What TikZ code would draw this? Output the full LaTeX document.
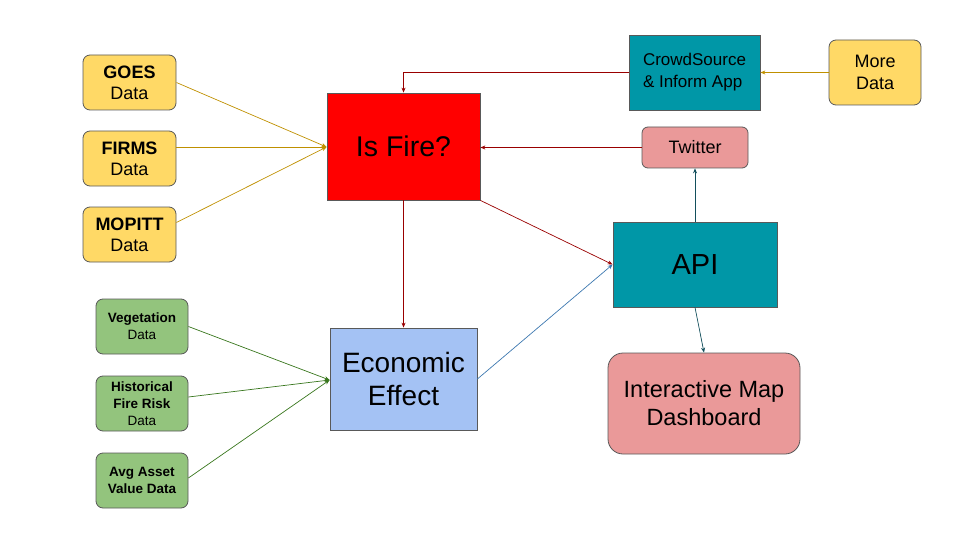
\documentclass[tikz,border=0pt]{standalone}
\usepackage{fontspec}
\setmainfont{Liberation Sans}
\usetikzlibrary{arrows.meta}
\definecolor{ylw}{HTML}{FFD966}
\definecolor{ylwline}{HTML}{BF9000}
\definecolor{grn}{HTML}{93C47D}
\definecolor{grnline}{HTML}{38761D}
\definecolor{teal}{HTML}{0097A7}
\definecolor{tealline}{HTML}{134F5C}
\definecolor{pink}{HTML}{EA9999}
\definecolor{lblue}{HTML}{A4C2F4}
\definecolor{redline}{HTML}{990000}
\definecolor{blueline}{HTML}{3D78B0}
\definecolor{border}{HTML}{595959}
\tikzset{
  box/.style={draw=border, line width=0.8pt, inner sep=0pt, align=center, text=black},
  ybox/.style={box, fill=ylw, rounded corners=7pt, minimum width=93pt, minimum height=55pt, font=\fontsize{18}{21}\selectfont},
  gbox/.style={box, fill=grn, rounded corners=7pt, minimum width=92pt, minimum height=55pt, font=\fontsize{13.5}{17}\selectfont},
  conn/.style={line width=0.7pt, -{Stealth[length=5pt,width=4pt]}},
}
\begin{document}
\begin{tikzpicture}[x=1pt,y=-1pt]
\useasboundingbox (0,0) rectangle (960,540);
\node[ybox] (goes) at (129.5,82.5) {\textbf{GOES}\\Data};
\node[ybox] (firms) at (129.5,158.5) {\textbf{FIRMS}\\Data};
\node[ybox] (mopitt) at (129.5,234.5) {\textbf{MOPITT}\\Data};
\node[box, fill=red, minimum width=153pt, minimum height=107pt, font=\fontsize{28.5}{32}\selectfont] (fire) at (403.5,146.5) {Is Fire?};
\node[box, fill=teal, minimum width=131pt, minimum height=75pt, font=\fontsize{17}{22}\selectfont, align=left] (crowd) at (694.5,72.5) {CrowdSource\\\& Inform App};
\node[ybox, minimum width=92pt, minimum height=65pt, font=\fontsize{18}{22}\selectfont] (more) at (875,72.5) {More\\Data};
\node[box, fill=pink, rounded corners=6pt, minimum width=106pt, minimum height=41pt, font=\fontsize{18}{21}\selectfont] (tw) at (695,147.5) {Twitter};
\node[box, fill=teal, minimum width=164pt, minimum height=85pt, font=\fontsize{29}{34}\selectfont] (api) at (695,264.5) {API};
\node[box, fill=pink, rounded corners=15pt, minimum width=192pt, minimum height=101pt, font=\fontsize{23.5}{28}\selectfont] (dash) at (704,403.5) {Interactive Map\\Dashboard};
\node[box, fill=lblue, minimum width=147pt, minimum height=102pt, font=\fontsize{28}{33}\selectfont] (econ) at (403.5,379) {Economic\\Effect};
\node[gbox] (veg) at (142,326.5) {\textbf{Vegetation}\\Data};
\node[gbox] (hist) at (142,403.5) {\textbf{Historical}\\\textbf{Fire Risk}\\Data};
\node[gbox] (avg) at (142,480.5) {\textbf{Avg Asset}\\\textbf{Value Data}};
\coordinate (firein) at ([yshift=-0.5pt]fire.west);
\coordinate (econin) at ([yshift=-1pt]econ.west);
\draw[conn, ylwline] (goes.east) -- (firein);
\draw[conn, ylwline] (firms.east |- firein) -- (firein);
\draw[conn, ylwline] ([yshift=12pt]mopitt.east) -- (firein);
\draw[conn, ylwline] (more.west) -- (crowd.east);
\draw[conn, redline] (crowd.west) -| (fire.north);
\draw[conn, redline] (tw.west) -- (tw.west -| fire.east);
\draw[conn, redline] (fire.south) -- (econ.north);
\draw[conn, redline] (fire.south east) -- (api.west);
\draw[conn, blueline] (econ.east) -- (api.west);
\draw[conn, tealline] (api.north) -- (tw.south);
\draw[conn, tealline] (api.south) -- (dash.north);
\draw[conn, grnline] (veg.east) -- (econin);
\draw[conn, grnline] ([yshift=6.5pt]hist.east) -- (econin);
\draw[conn, grnline] ([yshift=2.5pt]avg.east) -- (econin);
\end{tikzpicture}
\end{document}
